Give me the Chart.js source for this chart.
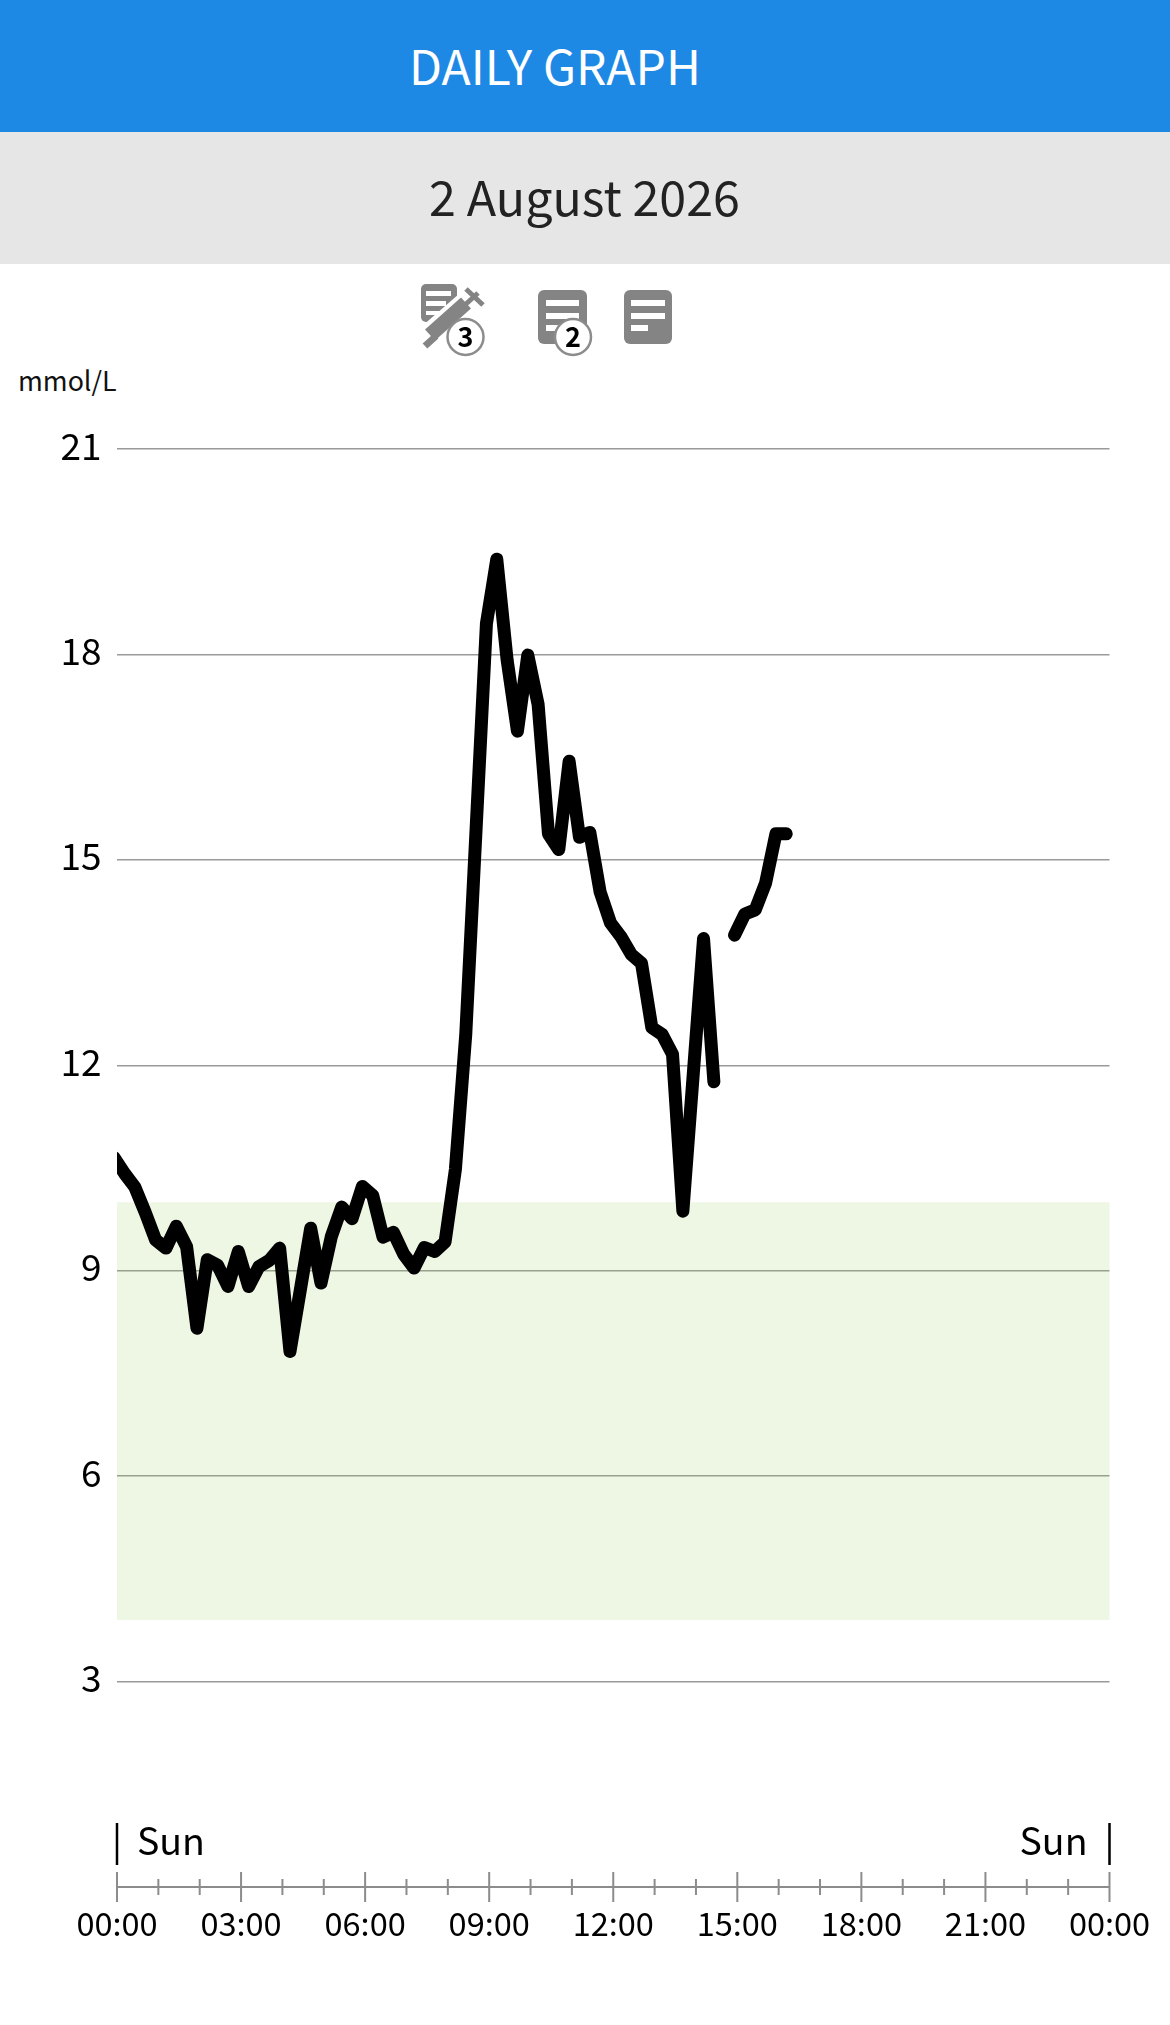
<!DOCTYPE html>
<html>
<head>
<meta charset="utf-8">
<title>Daily graph</title>
<script src="https://cdn.jsdelivr.net/npm/chart.js@4/dist/chart.umd.min.js"></script>
<style>
    html, body { margin: 0; padding: 0; background: #fff; width: 1170px; height: 2025px; overflow: hidden; }
    body, text { font-family: "Noto Sans CJK JP", "Noto Sans", sans-serif; }
    .bar { position: absolute; left: 0; width: 1170px; height: 132px; line-height: 132px; }
    #title { top: 0; background: #1e88e5; color: #fff; font-size: 48px; }
    #title span { position: absolute; left: 409px; top: -2px; }
    #date { top: 132px; background: #e6e6e6; color: #222; font-size: 48.4px; }
    #date span { position: absolute; left: 429px; top: -3px; }
    #unit { position: absolute; left: 18px; top: 361px; font-size: 26.8px; line-height: 38px; color: #111; }
    #icons { position: absolute; left: 0; top: 264px; }
    #chart { position: absolute; left: 0; top: 264px; }
</style>
</head>
<body>
<div id="title" class="bar"><span>DAILY GRAPH</span></div>
<div id="date" class="bar"><span>2 August 2026</span></div>
<div id="unit">mmol/L</div>
<canvas id="chart" width="1170" height="1761"></canvas>

<!-- note / insulin icons with their count badges -->
<svg id="icons" width="1170" height="100" viewBox="0 264 1170 100">
    <g fill="#848484">
        <rect x="421" y="284" width="36" height="38" rx="5"/>
        <rect x="538" y="290" width="49" height="54" rx="6"/>
        <rect x="624" y="290" width="48" height="54" rx="6"/>
    </g>
    <g fill="#fff">
        <rect x="426" y="291" width="25" height="5"/>
        <rect x="426" y="301" width="20" height="5"/>
        <rect x="426" y="311" width="14" height="4"/>
        <rect x="546" y="300" width="33" height="6"/>
        <rect x="546" y="313" width="33" height="6"/>
        <rect x="546" y="325" width="17" height="6"/>
        <rect x="631" y="300" width="34" height="6"/>
        <rect x="631" y="313" width="34" height="6"/>
        <rect x="631" y="325" width="17" height="6"/>
    </g>
    <!-- syringe -->
    <line x1="430" y1="335" x2="468" y2="302" stroke="#fff" stroke-width="24"/>
    <line x1="430" y1="335" x2="466" y2="303" stroke="#848484" stroke-width="15"/>
    <line x1="425" y1="346" x2="436" y2="336" stroke="#848484" stroke-width="7"/>
    <line x1="466" y1="304" x2="478" y2="293" stroke="#848484" stroke-width="5"/>
    <line x1="466" y1="289" x2="483" y2="305" stroke="#848484" stroke-width="5"/>
    <g fill="#fff" stroke="#8c8c8c" stroke-width="2.5">
        <circle cx="465.5" cy="337" r="18"/>
        <circle cx="573" cy="337" r="18"/>
    </g>
    <g fill="#000" font-size="27" font-weight="700" text-anchor="middle">
        <text x="465.5" y="347">3</text>
        <text x="573" y="347">2</text>
    </g>
</svg>

<script>
// Minutes after midnight of each sensor reading
const sampleMinutes = [
    -4, 11, 26, 41, 56, 71, 86, 101, 116, 131, 146, 161, 176, 191, 206, 221, 236, 251, 266, 281, 296, 311,
    326, 341, 356, 371, 386, 401, 416, 431, 446, 461, 476, 491, 506, 521, 536, 551, 566, 581, 596, 611,
    626, 641, 656, 671, 686, 701, 716, 731, 746, 761, 776, 791, 806, 821, 836, 851, 866, 881, 896, 911,
    926, 941, 956, 971
];
// mmol/L, null = sensor gap
const glucoseValues = [
    10.65, 10.42, 10.22, 9.85, 9.45, 9.33, 9.65, 9.35, 8.16, 9.16, 9.08, 8.77, 9.28, 8.77, 9.06, 9.15, 9.33, 7.82, 8.72, 9.62, 8.82, 9.5,
    9.93, 9.76, 10.23, 10.1, 9.49, 9.56, 9.24, 9.04, 9.34, 9.28, 9.42, 10.48, 12.45, 15.45, 18.45, 19.39, 17.92, 16.88, 17.99, 17.27,
    15.38, 15.15, 16.44, 15.33, 15.4, 14.53, 14.08, 13.88, 13.62, 13.49, 12.55, 12.45, 12.16, 9.87, 11.86, 13.85, 11.76, null, 13.9, 14.21,
    14.27, 14.66, 15.38, 15.38
];
const targetRange = [3.9, 10];
const hourLabels = ['00:00', '03:00', '06:00', '09:00', '12:00', '15:00', '18:00', '21:00', '00:00'];
const dayLabels = ['Sun', 'Sun'];

const fontName = '"Noto Sans CJK JP", "Noto Sans", sans-serif';

// Green target band, under the grid lines
const targetBand = {
    id: 'targetBand',
    beforeDatasetsDraw(chart) {
        const { ctx, chartArea, scales } = chart;
        const top = scales.y.getPixelForValue(targetRange[1]);
        const bottom = scales.y.getPixelForValue(targetRange[0]);
        ctx.save();
        ctx.fillStyle = 'rgba(139, 195, 74, 0.15)';
        ctx.fillRect(chartArea.left, top, chartArea.right - chartArea.left, bottom - top);
        ctx.restore();
    }
};

// Time axis: line crossed by hour ticks, and the day markers above it
const timeAxis = {
    id: 'timeAxis',
    afterDraw(chart) {
        const { ctx, chartArea, scales } = chart;
        const axisY = scales.y.getPixelForValue(0);
        ctx.save();
        ctx.strokeStyle = '#8c8c8c';
        ctx.lineWidth = 2;
        ctx.beginPath();
        ctx.moveTo(chartArea.left, axisY);
        ctx.lineTo(chartArea.right, axisY);
        scales.x.ticks.forEach(t => {
            const x = scales.x.getPixelForValue(t.value);
            const major = t.value % 180 === 0;
            ctx.moveTo(x, axisY - (major ? 15 : 8));
            ctx.lineTo(x, axisY + (major ? 15 : 8));
        });
        ctx.stroke();

        ctx.strokeStyle = '#000';
        ctx.lineWidth = 2.5;
        ctx.beginPath();
        ctx.moveTo(chartArea.left, axisY - 64);
        ctx.lineTo(chartArea.left, axisY - 22);
        ctx.moveTo(chartArea.right, axisY - 64);
        ctx.lineTo(chartArea.right, axisY - 22);
        ctx.stroke();

        ctx.fillStyle = '#000';
        ctx.font = '37.5px ' + fontName;
        ctx.textBaseline = 'middle';
        ctx.textAlign = 'left';
        ctx.fillText(dayLabels[0], chartArea.left + 20, axisY - 46);
        ctx.textAlign = 'right';
        ctx.fillText(dayLabels[1], chartArea.right - 22, axisY - 46);
        ctx.restore();
    }
};

const ctx = document.getElementById('chart').getContext('2d');
new Chart(ctx, {
    type: 'line',
    data: {
        datasets: [{
            data: sampleMinutes.map((m, i) => ({ x: m, y: glucoseValues[i] })),
            borderColor: '#000',
            borderWidth: 13,
            borderJoinStyle: 'round',
            borderCapStyle: 'round',
            pointRadius: 0,
            tension: 0,
            spanGaps: false,
            clip: 0
        }]
    },
    plugins: [targetBand, timeAxis],
    options: {
        responsive: false,
        animation: false,
        devicePixelRatio: 1,
        layout: { padding: { top: 185, right: 60.5, left: 0, bottom: 0 } },
        plugins: { legend: { display: false }, tooltip: { enabled: false } },
        scales: {
            x: {
                type: 'linear',
                min: 0,
                max: 1440,
                afterFit(scale) { scale.height = 138; },
                grid: { display: false },
                border: { display: false },
                ticks: {
                    stepSize: 60,
                    autoSkip: false,
                    maxRotation: 0,
                    padding: 9.5,
                    color: '#000',
                    font: { family: fontName, size: 32.5 },
                    callback: v => (v % 180 === 0 ? hourLabels[v / 180] : '')
                }
            },
            y: {
                min: 0,
                max: 21,
                afterFit(scale) { scale.width = 117; },
                grid: { color: '#9a9a9a', lineWidth: 1.5, drawTicks: false },
                border: { display: false },
                ticks: {
                    stepSize: 3,
                    padding: 15.5,
                    color: '#000',
                    // second empty line lifts the number a little above its grid line
                    font: { family: fontName, size: 37, lineHeight: '7px' },
                    callback: v => (v === 0 ? '' : [String(v), ''])
                }
            }
        }
    }
});
</script>
</body>
</html>
